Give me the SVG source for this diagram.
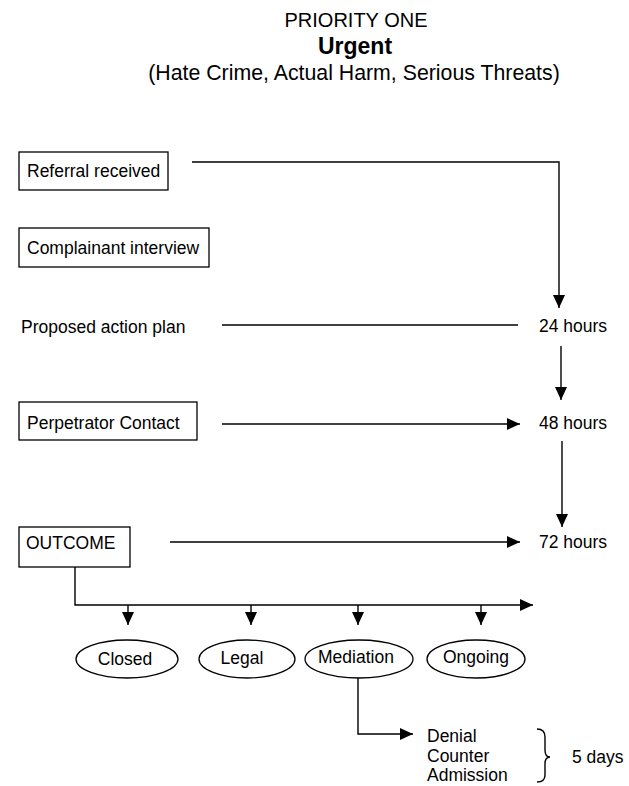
<svg xmlns="http://www.w3.org/2000/svg" width="629" height="786" viewBox="0 0 629 786">
<style>
text{font-family:"Liberation Sans",Arial,sans-serif;fill:#000;}
.t{font-size:17.5px;}
.box{fill:#fff;stroke:#000;stroke-width:1.3;}
.ln{fill:none;stroke:#000;stroke-width:1.4;}
</style>
<defs>
<marker id="ah" markerUnits="userSpaceOnUse" markerWidth="14" markerHeight="12" refX="13" refY="6" orient="auto">
<path d="M0,0 L13,6 L0,12 Z" fill="#000"/>
</marker>
</defs>
<rect width="629" height="786" fill="#fff"/>
<g id="title">
<text x="356" y="27" font-size="20" text-anchor="middle">PRIORITY ONE</text>
<text x="355" y="54" font-size="23" font-weight="bold" text-anchor="middle">Urgent</text>
<text x="354" y="80" font-size="21.3" text-anchor="middle">(Hate Crime, Actual Harm, Serious Threats)</text>
</g>
<g id="connectors">
<path class="ln" d="M192,162 H559 V308" marker-end="url(#ah)"/>
<path class="ln" d="M222,325 H518"/>
<path class="ln" d="M561,346 V400" marker-end="url(#ah)"/>
<path class="ln" d="M222,424 H520" marker-end="url(#ah)"/>
<path class="ln" d="M562,441 V527" marker-end="url(#ah)"/>
<path class="ln" d="M170,542 H520" marker-end="url(#ah)"/>
<path class="ln" d="M75,567 V605 H533" marker-end="url(#ah)"/>
<path class="ln" d="M128,605 V625" marker-end="url(#ah)"/>
<path class="ln" d="M251,605 V625" marker-end="url(#ah)"/>
<path class="ln" d="M358,605 V625" marker-end="url(#ah)"/>
<path class="ln" d="M481,605 V625" marker-end="url(#ah)"/>
<path class="ln" d="M358,678 V734 H413" marker-end="url(#ah)"/>
<path class="ln" d="M537,729 Q545,729 545,737 V750 Q545,757 550,757 Q545,757 545,764 V775 Q545,782 537,782"/>
</g>
<g id="referral">
<rect class="box" x="19" y="152" width="149" height="38"/>
<text class="t" x="27" y="177">Referral received</text>
</g>
<g id="complainant">
<rect class="box" x="19" y="228" width="190" height="39"/>
<text class="t" x="27" y="254">Complainant interview</text>
</g>
<g id="action-plan">
<text class="t" x="21" y="333">Proposed action plan</text>
</g>
<g id="perpetrator">
<rect class="box" x="19" y="402" width="178" height="38"/>
<text class="t" x="27" y="429">Perpetrator Contact</text>
</g>
<g id="outcome">
<rect class="box" x="19" y="527" width="111" height="40"/>
<text class="t" x="26" y="549">OUTCOME</text>
</g>
<g id="h24"><text class="t" x="539" y="332">24 hours</text></g>
<g id="h48"><text class="t" x="539" y="429">48 hours</text></g>
<g id="h72"><text class="t" x="539" y="548">72 hours</text></g>
<g id="closed">
<ellipse class="box" cx="127" cy="659" rx="51" ry="19"/>
<text class="t" x="125" y="665" text-anchor="middle">Closed</text>
</g>
<g id="legal">
<ellipse class="box" cx="247" cy="659" rx="48" ry="19"/>
<text class="t" x="242" y="664" text-anchor="middle">Legal</text>
</g>
<g id="mediation">
<ellipse class="box" cx="359" cy="659" rx="54" ry="19"/>
<text class="t" x="356" y="663" text-anchor="middle">Mediation</text>
</g>
<g id="ongoing">
<ellipse class="box" cx="476" cy="659" rx="49" ry="19"/>
<text class="t" x="476" y="663" text-anchor="middle">Ongoing</text>
</g>
<g id="responses">
<text class="t" x="427" y="742">Denial</text>
<text class="t" x="427" y="762">Counter</text>
<text class="t" x="427" y="781">Admission</text>
</g>
<g id="days"><text class="t" x="572" y="763">5 days</text></g>
</svg>
